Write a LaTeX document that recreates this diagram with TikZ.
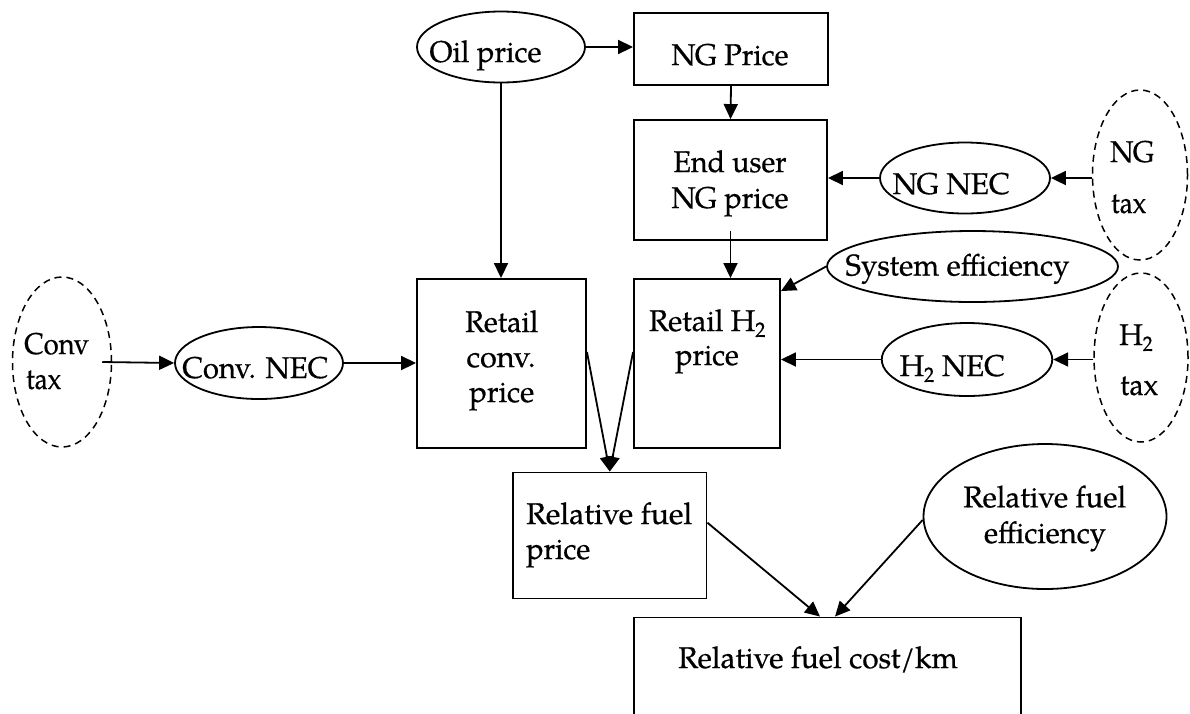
\documentclass[tikz,border=0pt]{standalone}
\usepackage{fontspec}
\setmainfont{TeX Gyre Pagella}[FakeBold=0.6]
\usetikzlibrary{shapes.geometric,arrows.meta}
\newcommand{\fw}[2]{\resizebox{#1}{\height}{#2}}
\begin{document}
\begin{tikzpicture}[x=1pt,y=-1pt,
  box/.style={draw, line width=1.9pt, inner sep=0pt},
  ell/.style={ellipse, draw, line width=1.8pt, inner sep=0pt},
  dell/.style={ellipse, draw, line width=1.5pt, dash pattern=on 7pt off 5pt, inner sep=0pt},
  txt/.style={inner sep=0pt, font=\fontsize{30}{36}\selectfont},
  arr/.style={line width=1.8pt, -{Triangle[length=15pt,width=14pt]}},
]
\useasboundingbox (0,0) rectangle (1190,713);
% boxes
\node[box, minimum width=194pt, minimum height=72pt] (ngp) at (731,49) {};
\node[box, minimum width=193pt, minimum height=120pt] (eu) at (730.5,180) {};
\node[box, minimum width=169pt, minimum height=169pt] (rconv) at (501.5,363.5) {};
\node[box, minimum width=146pt, minimum height=169pt] (rh2) at (707,363.5) {};
\node[box, minimum width=193.5pt, minimum height=126pt] (rfp) at (609.75,535.5) {};
\node[box, minimum width=387pt, minimum height=160pt] (cost) at (827.5,697.5) {};
% ellipses
\node[ell, minimum width=168pt, minimum height=71pt] (oil) at (501,47) {};
\node[ell, minimum width=168pt, minimum height=72pt] (convnec) at (259,363) {};
\node[dell, minimum width=99pt, minimum height=170pt] (convtax) at (62,362) {};
\node[ell, minimum width=170pt, minimum height=71pt] (ngnec) at (965,178) {};
\node[dell, minimum width=95pt, minimum height=170pt] (ngtax) at (1140,175) {};
\node[ell, minimum width=291pt, minimum height=71pt] (syseff) at (972.5,266.5) {};
\node[ell, minimum width=170.5pt, minimum height=73pt] (h2nec) at (967,359.5) {};
\node[dell, minimum width=94pt, minimum height=169pt] (h2tax) at (1141,357.5) {};
\node[ell, minimum width=243pt, minimum height=145pt] (releff) at (1045,516.5) {};
% texts
\node[txt, anchor=base] (toil) at (485.5,62) {\fw{112pt}{Oil price}};
\node[txt, anchor=base] (tngp) at (730,65) {\fw{117pt}{NG Price}};
\node[txt, anchor=base] (teu1) at (730,172) {\fw{113pt}{End user}};
\node[txt, anchor=base] (teu2) at (730,208) {\fw{117pt}{NG price}};
\node[txt, anchor=base] (trc1) at (501.7,332) {\fw{73pt}{Retail}};
\node[txt, anchor=base] (trc2) at (501,367) {\fw{69pt}{conv.}};
\node[txt, anchor=base] (trc3) at (501.7,402) {\fw{65pt}{price}};
\node[txt, anchor=base] (trh1) at (707.5,331) {\fw{117pt}{Retail H\textsubscript{2}}};
\node[txt, anchor=base] (trh2) at (707,365) {\fw{63.5pt}{price}};
\node[txt, anchor=base west] (tct1) at (24,354) {\fw{65pt}{Conv}};
\node[txt, anchor=base west] (tct2) at (26,389) {\fw{35pt}{tax}};
\node[txt, anchor=base] (tcn) at (255.3,378) {\fw{146pt}{Conv. NEC}};
\node[txt, anchor=base] (tnn) at (951.3,194) {\fw{117pt}{NG NEC}};
\node[txt, anchor=base west] (tnt1) at (1110,162) {\fw{44pt}{NG}};
\node[txt, anchor=base west] (tnt2) at (1111,213) {\fw{35pt}{tax}};
\node[txt, anchor=base] (tse) at (957.5,275.5) {\fw{224pt}{System efficiency}};
\node[txt, anchor=base] (thn) at (952.3,376) {\fw{105pt}{H\textsubscript{2} NEC}};
\node[txt, anchor=base west] (tht1) at (1119,345) {\fw{34pt}{H\textsubscript{2}}};
\node[txt, anchor=base west] (tht2) at (1120,395) {\fw{38pt}{tax}};
\node[txt, anchor=base west] (trf1) at (526,524) {\fw{166pt}{Relative fuel}};
\node[txt, anchor=base west] (trf2) at (526,559) {\fw{64pt}{price}};
\node[txt, anchor=base] (tre1) at (1044.7,507.3) {\fw{162.7pt}{Relative fuel}};
\node[txt, anchor=base] (tre2) at (1045,543) {\fw{122pt}{efficiency}};
\node[txt, anchor=base] (tcost) at (818,668) {\fw{279.5pt}{Relative fuel cost/km}};
% connectors
\draw[arr] (oil.east) -- (ngp.west |- oil.east);
\draw[arr] (oil.south) -- (oil.south |- rconv.north);
\draw[arr] (ngp.south) -- (eu.north);
\draw[arr] ([yshift=10pt]eu.south) -- (eu.south |- rh2.north);
\draw[arr] (ngnec.west) -- (eu.east |- ngnec.west);
\draw[arr] (ngtax.west |- ngnec.east) -- (ngnec.east);
\draw[arr] (syseff.west) -- ([yshift=-13pt]rh2.north east);
\draw[arr] (h2nec.west) -- (rh2.east |- h2nec.west);
\draw[arr] (h2tax.west |- h2nec.east) -- (h2nec.east);
\draw[arr] ([xshift=-10pt]convtax.east) -- (convnec.west);
\draw[arr] (convnec.east) -- (rconv.west |- convnec.east);
\draw[arr] ([yshift=11.5pt]rconv.east) -- (rfp.north);
\draw[arr] ([yshift=11.5pt]rh2.west) -- (rfp.north);
\draw[arr] ([yshift=12.8pt]rfp.east) -- ([xshift=-7.5pt]cost.north);
\draw[arr] ([yshift=-3.5pt]releff.west) -- ([xshift=7.5pt]cost.north);
\end{tikzpicture}
\end{document}
